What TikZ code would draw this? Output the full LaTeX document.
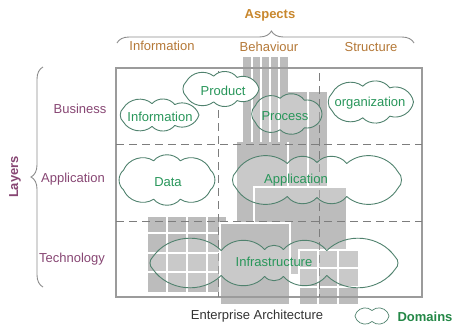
\documentclass[tikz,border=0pt]{standalone}
\usepackage{fontspec}
\setmainfont{Liberation Sans}
\usetikzlibrary{decorations.pathreplacing}
\definecolor{boxgray}{RGB}{188,188,188}
\definecolor{framegray}{RGB}{155,155,155}
\definecolor{dashgray}{RGB}{125,125,125}
\definecolor{cloudline}{RGB}{80,130,110}
\definecolor{cloudtext}{RGB}{40,150,90}
\definecolor{layercol}{RGB}{135,70,115}
\definecolor{aspectcol}{RGB}{180,120,55}
\definecolor{titlecol}{RGB}{200,135,45}
\definecolor{domaincol}{RGB}{35,135,70}
\definecolor{bracecol}{RGB}{140,140,140}
% #1 options, #2 name, #3 cx, #4 cy, #5 a, #6 b, #7 puffs, #8 start angle, #9 warp
\newcommand\mycloud[9]{%
  \coordinate (#2) at (#3,#4);
  \draw[cloudsty,#1] ({#3+#5*cos(#8+#9*sin(2*#8))},{#4+#6*sin(#8+#9*sin(2*#8))})
    \foreach \i in {1,...,#7} { to[bend left=50] ({#3+#5*cos(#8+360*\i/#7+#9*sin(2*(#8+360*\i/#7)))},{#4+#6*sin(#8+360*\i/#7+#9*sin(2*(#8+360*\i/#7)))}) } -- cycle;
}
\begin{document}
\begin{tikzpicture}[x=1pt,y=-1pt,
  txt/.style={font=\fontsize{13}{15}\selectfont, inner sep=0pt},
  ctext/.style={txt, text=cloudtext},
  layertext/.style={txt, text=layercol},
  aspecttext/.style={txt, text=aspectcol},
  cloudsty/.style={draw=cloudline, line width=0.9pt, line join=round, fill=white, fill opacity=0.2},
  gridline/.style={white, line width=1.4pt},
  graybox/.style={fill=boxgray, draw=white, line width=1.4pt},
  dashline/.style={dashgray, line width=1pt, dash pattern=on 8pt off 5pt},
  bracesty/.style={bracecol, line width=0.9pt, decorate}
]
\useasboundingbox (0,0) rectangle (456,330);

% ---- gray blocks ----
\fill[boxgray] (243,57) rectangle (288,142);
\foreach \x in {252,261,270,279} \draw[gridline] (\x,57) -- (\x,142);
\fill[boxgray] (288,92) rectangle (327,222);
\fill[boxgray] (237,142) rectangle (288,222);
\draw[gridline] (308,92) -- (308,187);
\draw[gridline] (288,142) -- (288,187);
\path[graybox] (254,187) rectangle (347,275);
\path[graybox] (147,216) rectangle (227,293);
\foreach \x in {167,187,207} \draw[gridline] (\x,216) -- (\x,293);
\foreach \y in {233,253,272} \draw[gridline] (147,\y) -- (227,\y);
\path[graybox] (220,223) rectangle (290,305);
\path[graybox] (299,250) rectangle (359,305);
\foreach \x in {318,338} \draw[gridline] (\x,250) -- (\x,305);
\foreach \y in {268,287} \draw[gridline] (299,\y) -- (359,\y);

% ---- frame and dashed grid ----
\draw[framegray, line width=1.2pt] (116,68) rectangle (422,297);
\draw[dashline] (116,144) -- (422,144);
\draw[dashline] (116,221) -- (422,221);
\draw[dashline] (218,71) -- (218,297);
\draw[dashline] (319,73) -- (319,297);

% ---- clouds ----
\mycloud{}{cInfo}{157}{115}{42}{11.5}{7}{0}{14}
\mycloud{fill opacity=1}{cProd}{219}{89}{40}{13}{7}{0}{12}
\mycloud{}{cProc}{286}{114}{36}{16}{7}{0}{8}
\mycloud{}{cOrg}{369}{102}{44.5}{16}{7}{0}{11}
\mycloud{}{cData}{167}{180}{50}{20}{8}{22.5}{10}
\mycloud{}{cApp}{317}{180}{92}{17.5}{10}{18}{18}
\mycloud{}{cInfra}{274}{263}{135}{13.5}{12}{15}{22}
\mycloud{line width=0.7pt}{cLeg}{372}{316}{21}{5.5}{6}{30}{15}

\node[ctext] (tInfo) at (160,117) {Information};
\node[ctext] (tProd) at (223,91) {Product};
\node[ctext] (tProc) at (285,116) {Process};
\node[ctext] (tOrg) at (370,103) {organization};
\node[ctext] (tData) at (168,182) {Data};
\node[ctext] (tApp) at (296,180) {Application};
\node[ctext] (tInfra) at (274,262) {Infrastructure};

% ---- aspects ----
\node[txt, text=titlecol, font=\fontsize{13}{15}\selectfont\bfseries] (aspects) at (270,15) {Aspects};
\node[aspecttext] (aInfo) at (162,46) {Information};
\node[aspecttext] (aBeh) at (269,47) {Behaviour};
\node[aspecttext] (aStr) at (371,47) {Structure};
\coordinate (bt1) at (117,43);
\coordinate (bt2) at (414,43);
\draw[bracesty, decoration={brace, amplitude=12pt, aspect=0.52}] (bt1) -- (bt2);

% ---- layers ----
\node[txt, text=layercol, font=\fontsize{13}{15}\selectfont\bfseries, rotate=90] (layers) at (15,177) {Layers};
\node[layertext] (lBus) at (80,109) {Business};
\node[layertext] (lApp) at (73,179) {Application};
\node[layertext] (lTech) at (72,259) {Technology};
\coordinate (bl1) at (43,287);
\coordinate (bl2) at (43,67);
\draw[bracesty, decoration={brace, amplitude=12pt}] (bl1) -- (bl2);

% ---- bottom ----
\node[txt, text=black!80] (ea) at (257,316) {Enterprise Architecture};
\node[txt, text=domaincol, font=\fontsize{13}{15}\selectfont\bfseries] (dom) at (425,317) {Domains};
\end{tikzpicture}
\end{document}
